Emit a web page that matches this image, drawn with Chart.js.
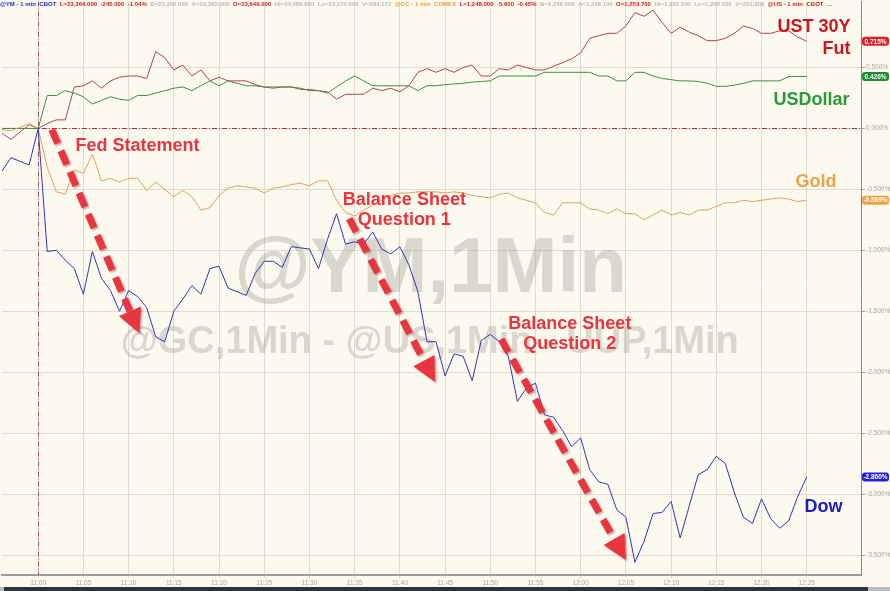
<!DOCTYPE html>
<html>
<head>
<meta charset="utf-8">
<script src="https://cdn.jsdelivr.net/npm/chart.js@4.4.0/dist/chart.umd.min.js"></script>
<style>
  html, body { margin: 0; padding: 0; background: #fcf9ef; overflow: hidden; }
  canvas { display: block; }
</style>
</head>
<body>
<canvas id="chart" width="890" height="591"></canvas>
<script>
// minutes from 10:56 to 12:31 (data stops at 12:25)
const times = [
  '10:56','10:57','10:58','10:59',
  '11:00','11:01','11:02','11:03','11:04','11:05','11:06','11:07','11:08','11:09',
  '11:10','11:11','11:12','11:13','11:14','11:15','11:16','11:17','11:18','11:19',
  '11:20','11:21','11:22','11:23','11:24','11:25','11:26','11:27','11:28','11:29',
  '11:30','11:31','11:32','11:33','11:34','11:35','11:36','11:37','11:38','11:39',
  '11:40','11:41','11:42','11:43','11:44','11:45','11:46','11:47','11:48','11:49',
  '11:50','11:51','11:52','11:53','11:54','11:55','11:56','11:57','11:58','11:59',
  '12:00','12:01','12:02','12:03','12:04','12:05','12:06','12:07','12:08','12:09',
  '12:10','12:11','12:12','12:13','12:14','12:15','12:16','12:17','12:18','12:19',
  '12:20','12:21','12:22','12:23','12:24','12:25','12:26','12:27','12:28','12:29',
  '12:30','12:31'
];
const xTickLabels = ['11:00','11:05','11:10','11:15','11:20','11:25','11:30','11:35','11:40',
  '11:45','11:50','11:55','12:00','12:05','12:10','12:15','12:20','12:25'];
const yTickValues = [-3.5, -3, -2.5, -2, -1.5, -1, -0.5, 0, 0.5];

// % change since 11:00
const ust30y = [
  -0.04, -0.09, -0.03, 0.03,
  0, 0.04, 0.07, 0.07, 0.34,  0.35, 0.39, 0.33, 0.39, 0.42,
  0.43, 0.43, 0.41, 0.63, 0.58,  0.48, 0.52, 0.43, 0.48, 0.39,
  0.42, 0.39, 0.39, 0.39, 0.36,  0.34, 0.33, 0.34, 0.34, 0.32,
  0.32, 0.31, 0.30, 0.24, 0.28,  0.28, 0.28, 0.33, 0.31, 0.33,
  0.30, 0.35, 0.46, 0.49, 0.46,  0.49, 0.46, 0.50, 0.52, 0.43,
  0.43, 0.49, 0.48, 0.52, 0.50,  0.48, 0.48, 0.51, 0.54, 0.57,
  0.62, 0.74, 0.76, 0.78, 0.78,  0.84, 0.95, 0.92, 0.97, 0.87,
  0.78, 0.83, 0.79, 0.76, 0.72,  0.72, 0.74, 0.78, 0.84, 0.82,
  0.78, 0.78, 0.80, 0.80, 0.75,  0.715
];
const usDollar = [
  0, 0, 0, 0,
  0, 0.27, 0.27, 0.31, 0.29,  0.26, 0.20, 0.23, 0.26, 0.24,
  0.23, 0.27, 0.27, 0.29, 0.31,  0.33, 0.34, 0.31, 0.35, 0.39,
  0.35, 0.39, 0.37, 0.35, 0.35,  0.34, 0.34, 0.34, 0.34, 0.33,
  0.31, 0.31, 0.29, 0.34, 0.39,  0.43, 0.39, 0.35, 0.35, 0.35,
  0.35, 0.35, 0.31, 0.35, 0.35,  0.36, 0.365, 0.37, 0.38, 0.385,
  0.39, 0.43, 0.43, 0.43, 0.43,  0.43, 0.46, 0.46, 0.46, 0.46,
  0.46, 0.46, 0.43, 0.43, 0.39,  0.39, 0.46, 0.46, 0.43, 0.41,
  0.40, 0.39, 0.39, 0.385, 0.37,  0.345, 0.345, 0.355, 0.37, 0.39,
  0.39, 0.39, 0.39, 0.426, 0.426,  0.426
];
const gold = [
  -0.01, -0.02, 0.01, 0.04,
  0, -0.32, -0.52, -0.54, -0.34,  -0.37, -0.21, -0.43, -0.41, -0.44,
  -0.41, -0.41, -0.51, -0.44, -0.50,  -0.56, -0.51, -0.56, -0.67, -0.65,
  -0.55, -0.49, -0.47, -0.48, -0.49,  -0.53, -0.49, -0.48, -0.46, -0.45,
  -0.47, -0.43, -0.43, -0.59, -0.69,  -0.72, -0.67, -0.63, -0.59, -0.55,
  -0.53, -0.53, -0.52, -0.52, -0.52,  -0.53, -0.52, -0.53, -0.55, -0.56,
  -0.57, -0.54, -0.53, -0.57, -0.59,  -0.61, -0.69, -0.71, -0.61, -0.61,
  -0.61, -0.66, -0.67, -0.70, -0.66,  -0.70, -0.70, -0.75, -0.71, -0.67,
  -0.71, -0.69, -0.71, -0.67, -0.67,  -0.64, -0.61, -0.61, -0.59, -0.60,
  -0.59, -0.58, -0.57, -0.58, -0.60,  -0.589
];
const dow = [
  -0.35, -0.24, -0.27, -0.30,
  0, -1.01, -1.00, -1.08, -1.15,  -1.36, -1.01, -1.23, -1.33, -1.50,
  -1.33, -1.38, -1.47, -1.71, -1.75,  -1.50, -1.40, -1.29, -1.36, -1.15,
  -1.13, -1.31, -1.34, -1.37, -1.19,  -1.09, -1.09, -1.14, -0.97, -0.98,
  -0.99, -1.15, -0.91, -0.70, -0.95,  -0.93, -0.95, -0.85, -0.99, -1.03,
  -0.97, -1.12, -1.34, -1.75, -1.75,  -2.03, -1.85, -1.87, -2.07, -1.74,
  -1.69, -1.75, -1.87, -2.24, -2.13,  -2.09, -2.35, -2.37, -2.48, -2.61,
  -2.54, -2.80, -2.90, -2.92, -3.13,  -3.19, -3.56, -3.39, -3.16, -3.15,
  -3.06, -3.36, -3.10, -2.84, -2.80,  -2.69, -2.75, -2.99, -3.19, -3.24,
  -3.04, -3.20, -3.28, -3.22, -3.02,  -2.86
];

const FONT = '"Liberation Sans", Arial, sans-serif';
const RED_NOTE = '#e8353f';

// annotations in (category index, % value)
const notes = [
  { lines: ['Fed Statement'], x: 14.98, y: -0.148 },
  { lines: ['Balance Sheet', 'Question 1'], x: 44.5, y: -0.59 },
  { lines: ['Balance Sheet', 'Question 2'], x: 62.8, y: -1.607 }
];
const arrows = [
  [5.5, -0.01, 15.2, -1.68],
  [38.4, -0.74, 47.9, -2.08],
  [55.2, -1.73, 69.0, -3.54]
];
const seriesTags = [
  { text: 'UST 30Y', x: 93.85, y: 0.828, color: '#c8171f' },
  { text: 'Fut', x: 93.85, y: 0.648, color: '#c8171f' },
  { text: 'USDollar', x: 93.73, y: 0.23, color: '#2c9a3c' },
  { text: 'Gold', x: 92.3, y: -0.443, color: '#eba24a' },
  { text: 'Dow', x: 92.96, y: -3.107, color: '#1c1cc4' }
];
const header = [
  ['@YM - 1 min', '#1e2fc8'], ['CBOT', '#1e2fc8'], ['L=23,364.000', '#d42020'],
  ['-245.000', '#d42020'], ['-1.04%', '#d42020'], ['B=23,362.000', '#b8b8b8'],
  ['A=23,365.000', '#b8b8b8'], ['O=23,649.000', '#d42020'], ['Hi=24,080.000', '#b8b8b8'],
  ['Lo=23,170.000', '#b8b8b8'], ['V=284,172', '#b8b8b8'], ['@GC - 1 min', '#f0a040'],
  ['COMEX', '#f0a040'], ['L=1,248.000', '#d42020'], ['-5.600', '#d42020'],
  ['-0.45%', '#d42020'], ['B=1,248.000', '#b8b8b8'], ['A=1,248.100', '#b8b8b8'],
  ['O=1,253.700', '#d42020'], ['Hi=1,262.200', '#b8b8b8'], ['Lo=1,245.500', '#b8b8b8'],
  ['V=251,909', '#b8b8b8'], ['@US - 1 min', '#d42020'], ['CBOT', '#d42020'], ['...', '#d42020']
];

function drawArrow(ctx, x1, y1, x2, y2) {
  const a = Math.atan2(y2 - y1, x2 - x1);
  const c = Math.cos(a), s = Math.sin(a);
  const headLen = 24, headW = 12;
  const bx = x2 - headLen * c, by = y2 - headLen * s;
  ctx.save();
  ctx.shadowColor = 'rgba(90,0,0,0.35)';
  ctx.shadowBlur = 2;
  ctx.shadowOffsetX = 1.5;
  ctx.shadowOffsetY = 1.5;
  ctx.strokeStyle = RED_NOTE;
  ctx.fillStyle = RED_NOTE;
  ctx.lineWidth = 7;
  ctx.setLineDash([15, 8]);
  ctx.beginPath();
  ctx.moveTo(x1, y1);
  ctx.lineTo(bx, by);
  ctx.stroke();
  ctx.setLineDash([]);
  ctx.beginPath();
  ctx.moveTo(x2, y2);
  ctx.lineTo(bx - headW * s, by + headW * c);
  ctx.lineTo(bx + headW * s, by - headW * c);
  ctx.closePath();
  ctx.fill();
  ctx.restore();
}

const backdrop = {
  id: 'backdrop',
  beforeDraw(chart) {
    const ctx = chart.ctx;
    ctx.save();
    ctx.fillStyle = '#fcf9ef';
    ctx.fillRect(0, 0, chart.width, chart.height);
    ctx.restore();
  },
  beforeDatasetsDraw(chart) {
    const { ctx, chartArea: a, scales: { x, y } } = chart;
    ctx.save();
    // watermarks
    ctx.fillStyle = 'rgba(150,146,135,0.33)';
    ctx.textAlign = 'center';
    ctx.textBaseline = 'middle';
    ctx.font = 'bold 78px ' + FONT;
    ctx.fillText('@YM,1Min', x.getPixelForValue(47.4), y.getPixelForValue(-1.164));
    ctx.font = 'bold 38px ' + FONT;
    ctx.fillText('@GC,1Min - @US,1Min - UUP,1Min', x.getPixelForValue(47.3), y.getPixelForValue(-1.754));
    // zero line and 11:00 marker
    ctx.strokeStyle = '#a8303c';
    ctx.lineWidth = 1;
    ctx.setLineDash([5, 2, 1, 2]);
    const y0 = Math.round(y.getPixelForValue(0)) + 0.5;
    ctx.beginPath();
    ctx.moveTo(a.left, y0);
    ctx.lineTo(a.right, y0);
    ctx.stroke();
    ctx.strokeStyle = '#b04a6a';
    const x0 = Math.round(x.getPixelForValue(times.indexOf('11:00'))) + 0.5;
    ctx.beginPath();
    ctx.moveTo(x0, a.top);
    ctx.lineTo(x0, a.bottom);
    ctx.stroke();
    ctx.restore();
  },
  afterDatasetsDraw(chart) {
    const { ctx, scales: { x, y } } = chart;
    arrows.forEach(([i1, v1, i2, v2]) =>
      drawArrow(ctx, x.getPixelForValue(i1), y.getPixelForValue(v1), x.getPixelForValue(i2), y.getPixelForValue(v2)));
    ctx.save();
    ctx.textAlign = 'center';
    ctx.textBaseline = 'middle';
    ctx.font = 'bold 18px ' + FONT;
    ctx.fillStyle = RED_NOTE;
    notes.forEach(n => {
      const px = x.getPixelForValue(n.x);
      const py = y.getPixelForValue(n.y);
      n.lines.forEach((t, k) => ctx.fillText(t, px, py + k * 20));
    });
    ctx.textAlign = 'right';
    seriesTags.forEach(t => {
      ctx.fillStyle = t.color;
      ctx.fillText(t.text, x.getPixelForValue(t.x), y.getPixelForValue(t.y));
    });
    ctx.restore();
  },
  afterDraw(chart) {
    const { ctx, chartArea: a, scales: { y } } = chart;
    ctx.save();
    // last-value boxes on the right axis
    ctx.font = 'bold 6.5px ' + FONT;
    ctx.textAlign = 'center';
    ctx.textBaseline = 'middle';
    chart.data.datasets.forEach(ds => {
      const v = ds.data[ds.data.length - 1];
      const py = y.getPixelForValue(v);
      ctx.fillStyle = ds.tagColor;
      ctx.beginPath();
      ctx.roundRect(a.right + 1, py - 4.5, 27, 9, 3);
      ctx.fill();
      ctx.fillStyle = '#ffffff';
      ctx.fillText(v.toFixed(3) + '%', a.right + 14.5, py + 0.5);
    });
    // header line, items laid out one after another
    ctx.textAlign = 'left';
    ctx.font = 'bold 6px ' + FONT;
    let hx = 0;
    header.forEach(([t, c]) => {
      ctx.fillStyle = c;
      ctx.fillText(t, hx, 4);
      hx += ctx.measureText(t).width + 3.5;
    });
    // bottom strip
    ctx.fillStyle = '#2c333d';
    ctx.fillRect(0, chart.height - 4, chart.width, 4);
    ctx.fillStyle = '#b9bdc4';
    ctx.fillRect(0, chart.height - 4, 4, 4);
    ctx.fillRect(chart.width - 22, chart.height - 4, 22, 4);
    ctx.restore();
  }
};

const GRID = '#dedbd0';
const ctx = document.getElementById('chart').getContext('2d');
new Chart(ctx, {
  type: 'line',
  data: {
    labels: times,
    datasets: [
      { label: 'Dow', data: dow, borderColor: '#3535b8', tagColor: '#2222dd' },
      { label: 'Gold', data: gold, borderColor: '#dea262', tagColor: '#f0a040' },
      { label: 'USDollar', data: usDollar, borderColor: '#3f8e4b', tagColor: '#1f8a2f' },
      { label: 'UST 30Y Fut', data: ust30y, borderColor: '#b9424f', tagColor: '#e01f25' }
    ]
  },
  options: {
    responsive: false,
    animation: false,
    layout: { padding: { left: 2, right: 0, top: 0, bottom: 4 } },
    elements: {
      line: { borderWidth: 1, tension: 0, fill: false },
      point: { radius: 0 }
    },
    plugins: {
      legend: { display: false },
      tooltip: { enabled: false }
    },
    scales: {
      x: {
        offset: false,
        ticks: {
          autoSkip: false, maxRotation: 0, minRotation: 0, padding: 1,
          color: '#a8a8a8', font: { size: 6.5, family: FONT },
          callback: (v, i) => xTickLabels.includes(times[i]) ? times[i] : ''
        },
        grid: {
          offset: false, tickLength: 3,
          color: c => (c.tick && xTickLabels.includes(times[c.index])) ? GRID : 'rgba(0,0,0,0)'
        },
        border: { color: '#9c9c9c', width: 2 },
        afterFit: s => { s.height = 12; }
      },
      y: {
        position: 'right',
        min: -3.664,
        max: 1.04,
        afterBuildTicks: s => { s.ticks = yTickValues.map(v => ({ value: v })); },
        ticks: {
          padding: 1, color: '#a5a5a5',
          font: { size: 6.5, family: FONT, lineHeight: 0.2 },
          callback: v => v.toFixed(3) + '%'
        },
        grid: { color: GRID, tickLength: 4, tickColor: '#a0a0a0' },
        border: { color: '#8a8a8a', width: 1 },
        afterFit: s => { s.width = 29; }
      }
    }
  },
  plugins: [backdrop]
});
</script>
</body>
</html>
